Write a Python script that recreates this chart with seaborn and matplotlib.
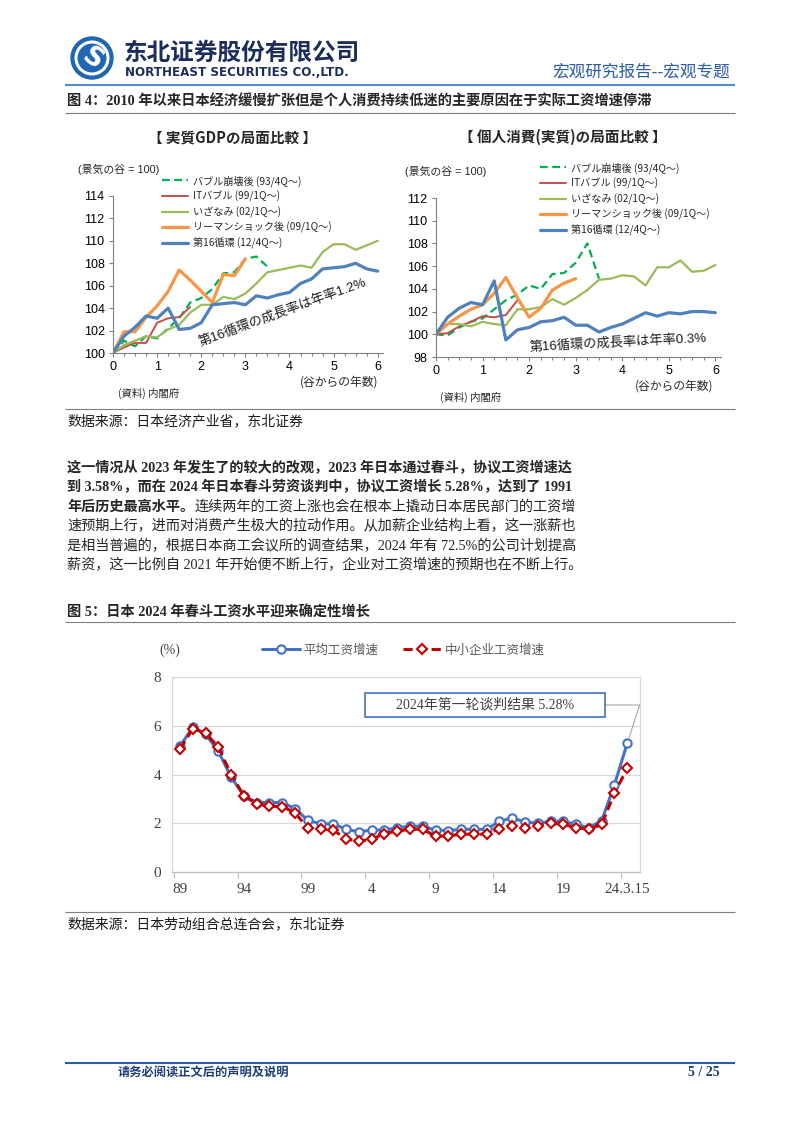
import matplotlib
matplotlib.use("Agg")
import matplotlib.pyplot as plt
from matplotlib.patches import Rectangle, Circle
from matplotlib.ticker import MultipleLocator, FixedLocator
import seaborn as sns

sns.set_theme(style="ticks")
plt.rcParams['font.family'] = ['Noto Sans CJK SC', 'DejaVu Sans']
plt.rcParams['axes.unicode_minus'] = False

W, H = 802, 1133

# ---------- 图4 数据（景気の谷 = 100） ----------
quarters = [0, 0.25, 0.5, 0.75, 1, 1.25, 1.5, 1.75, 2, 2.25, 2.5, 2.75, 3,
            3.25, 3.5, 3.75, 4, 4.25, 4.5, 4.75, 5, 5.25, 5.5, 5.75, 6]
cycle_names = ['バブル崩壊後 (93/4Q〜)', 'ITバブル (99/1Q〜)', 'いざなみ (02/1Q〜)',
               'リーマンショック後 (09/1Q〜)', '第16循環 (12/4Q〜)']

gdp_bubble = [100, 101.1, 100.6, 101.5, 101.3, 102.2, 103.1, 104.5, 104.9, 105.7,
              107.1, 107.2, 108.4, 108.6, 107.7]
gdp_it = [100, 100.5, 100.9, 100.9, 102.7, 103.1, 103.2, 104.1]
gdp_izanami = [100, 100.7, 101.1, 101.5, 101.4, 102.1, 102.5, 103.6, 104.3, 104.3,
               105.0, 104.8, 105.3, 106.2, 107.2, 107.4, 107.6, 107.8, 107.6, 109.0,
               109.7, 109.7, 109.2, 109.6, 110.0]
gdp_lehman = [100, 101.9, 101.9, 103.2, 104.2, 105.5, 107.4, 106.5, 105.5, 104.5,
              107.0, 106.9, 108.4]
gdp_16th = [100, 101.5, 102.3, 103.3, 103.1, 104.0, 102.1, 102.2, 102.7, 104.3,
            104.4, 104.5, 104.3, 105.1, 104.9, 105.2, 105.4, 106.2, 106.6, 107.5,
            107.6, 107.7, 108.0, 107.5, 107.3]

con_bubble = [100, 99.9, 100.6, 101.1, 101.4, 102.2, 103.0, 103.5, 104.3, 104.0,
              105.3, 105.4, 106.3, 108.0, 104.9]
con_it = [100, 100.1, 100.7, 101.1, 101.6, 101.5, 101.7, 103.0]
con_izanami = [100, 100.9, 100.9, 100.7, 101.1, 100.9, 100.8, 102.2, 102.2, 102.4,
               103.1, 102.6, 103.2, 103.9, 104.8, 104.9, 105.2, 105.1, 104.3, 105.9,
               105.9, 106.5, 105.5, 105.6, 106.1]
con_lehman = [100, 100.9, 101.6, 102.2, 102.6, 103.6, 105.0, 103.2, 101.5, 102.3,
              103.9, 104.5, 104.9]
con_16th = [100, 101.5, 102.3, 102.8, 102.6, 104.7, 99.5, 100.4, 100.6, 101.1,
            101.2, 101.5, 100.8, 100.8, 100.2, 100.6, 100.9, 101.4, 101.9, 101.6,
            101.9, 101.8, 102.0, 102.0, 101.9]

# ---------- 图5 数据（春斗工资增速 %） ----------
years = list(range(1989, 2025))
wage_avg = [5.17, 5.94, 5.65, 4.95, 3.89, 3.13, 2.85, 2.85, 2.85, 2.60, 2.12, 1.98,
            1.97, 1.75, 1.65, 1.72, 1.72, 1.82, 1.88, 1.88, 1.72, 1.70, 1.75, 1.75,
            1.75, 2.08, 2.22, 2.05, 2.00, 2.08, 2.08, 1.95, 1.82, 2.10, 3.58, 5.28]
wage_sme = [5.05, 5.88, 5.70, 5.12, 4.00, 3.12, 2.80, 2.70, 2.68, 2.43, 1.80, 1.75,
            1.72, 1.35, 1.26, 1.35, 1.57, 1.68, 1.75, 1.75, 1.47, 1.48, 1.55, 1.55,
            1.55, 1.77, 1.90, 1.82, 1.88, 2.00, 1.95, 1.82, 1.75, 1.95, 3.23, 4.25]
wage_ticks = [1989, 1994, 1999, 2004, 2009, 2014, 2019, 2024]
wage_ticklabels = ['89', '94', '99', '4', '9', '14', '19', '24.3.15']

SERIF_CN = ['Liberation Serif', 'Noto Sans CJK SC']
SANS_CN = ['Noto Sans CJK SC', 'DejaVu Sans']
JP = ['Noto Sans CJK JP', 'DejaVu Sans']
JP_NUM = ['Liberation Sans', 'Noto Sans CJK JP']

fig = plt.figure(figsize=(W / 100, H / 100), dpi=100)
bg = fig.add_axes([0, 0, 1, 1])
bg.set_xlim(0, W)
bg.set_ylim(H, 0)
bg.axis('off')


def px_axes(l, t, r, b):
    return fig.add_axes([l / W, 1 - b / H, (r - l) / W, (b - t) / H])


def hline(y, x0=65, x1=735, color='#7f7f7f', lw=0.8):
    bg.plot([x0, x1], [y, y], color=color, lw=lw, solid_capstyle='butt')


# ---------- 页眉 ----------
bg.add_patch(Circle((92, 58), 21, color='#1f66b3'))
bg.add_patch(Circle((92, 58), 16, fill=False, ec='white', lw=2.2))
bg.text(92, 59, 'S', color='white', fontsize=19, weight='bold', family=['DejaVu Sans'],
        ha='center', va='center', rotation=-35)
bg.text(124, 53, '东北证券股份有限公司', fontsize=17, weight='heavy', color='#1b2d5b',
        family=SANS_CN, va='center')
bg.text(125, 73, 'NORTHEAST SECURITIES CO.,LTD.', fontsize=8.6, weight='bold',
        color='#1b2d5b', family=['DejaVu Sans'], va='center')
bg.text(730, 72, '宏观研究报告--宏观专题', fontsize=12, color='#2a5caa',
        family=SANS_CN, ha='right', va='center')
hline(85, color='#4f8fd0', lw=1.5)

# ---------- 图4 ----------
bg.text(67, 102, '图 4：2010 年以来日本经济缓慢扩张但是个人消费持续低迷的主要原因在于实际工资增速停滞',
        fontsize=10.3, weight='bold', family=SERIF_CN, va='center')
hline(113)

styles = [dict(color='#00b050', lw=1.6, dashes=(3.5, 2)),
          dict(color='#c0504d', lw=1.4),
          dict(color='#9bbb59', lw=1.6),
          dict(color='#f79646', lw=2.3),
          dict(color='#4f81bd', lw=2.3)]


def cycle_chart(box, ylim, series, title, title_x, unit_x, legend_x, legend_y,
                xlab_x, src_x, note, note_xy, note_rot):
    ax = px_axes(*box)
    ax.set_facecolor('none')
    handles = []
    for vals, st in zip(series, styles):
        kw = dict(st)
        dashes = kw.pop('dashes', None)
        sns.lineplot(x=quarters[:len(vals)], y=vals, ax=ax, legend=False, **kw)
        line = ax.lines[-1]
        if dashes:
            line.set_dashes(dashes)
        handles.append(line)
    ax.set_xlim(0, 6.12)
    ax.set_ylim(*ylim)
    ax.yaxis.set_major_locator(MultipleLocator(2))
    ax.xaxis.set_major_locator(MultipleLocator(1))
    ax.xaxis.set_minor_locator(MultipleLocator(0.25))
    for s in ['top', 'right']:
        ax.spines[s].set_visible(False)
    for s in ['left', 'bottom']:
        ax.spines[s].set_color('#808080')
        ax.spines[s].set_linewidth(0.8)
    ax.tick_params(which='both', color='#808080', width=0.8, length=3, pad=3,
                   labelsize=9, labelcolor='black')
    ax.tick_params(which='minor', length=2.5)
    for lab in ax.get_xticklabels() + ax.get_yticklabels():
        lab.set_family(JP_NUM)
    ax.set_xlabel('')
    ax.set_ylabel('')

    top, bottom = box[1], box[3]
    bg.text(title_x, 137, title, fontsize=10.5, weight='bold', family=JP,
            ha='center', va='center')
    bg.text(unit_x, top - 27, '(景気の谷 = 100)', fontsize=7.8, family=JP_NUM,
            va='center', color='#262626')
    leg = ax.legend(handles, cycle_names, loc='upper left', frameon=False,
                    bbox_to_anchor=(legend_x / W, 1 - legend_y / H),
                    bbox_transform=fig.transFigure, prop=dict(family=JP, size=7.3),
                    handlelength=2.6, handletextpad=0.5, labelspacing=0.42,
                    borderpad=0, borderaxespad=0)
    for t in leg.get_texts():
        t.set_color('#262626')
    bg.text(xlab_x, bottom + 29, '(谷からの年数)', fontsize=8.5, family=JP,
            ha='right', va='center', color='#262626')
    bg.text(src_x, bottom + 40, '(資料) 内閣府', fontsize=7.5, family=JP,
            va='center', color='#262626')
    ax.text(note_xy[0], note_xy[1], note, fontsize=9.5, family=JP_NUM, ha='center',
            va='center', rotation=note_rot, rotation_mode='anchor', color='#1a1a1a')
    return ax


cycle_chart((113, 196, 383, 353), (100, 114),
            [gdp_bubble, gdp_it, gdp_izanami, gdp_lehman, gdp_16th],
            '【 実質GDPの局面比較 】', 232, 78, 162, 175, 378, 118,
            '第16循環の成長率は年率1.2%', (3.85, 103.65), 20)
cycle_chart((436, 198, 721, 357), (98, 112),
            [con_bubble, con_it, con_izanami, con_lehman, con_16th],
            '【 個人消費(実質)の局面比較 】', 563, 405, 540, 162, 713, 440,
            '第16循環の成長率は年率0.3%', (3.9, 99.25), 3)

hline(409)
bg.text(67, 421, '数据来源：日本经济产业省，东北证券', fontsize=10, family=SERIF_CN,
        va='center', color='#1a1a1a')

# ---------- 正文 ----------
body_fs = 10.2
body_y = [468, 487.5, 507, 526.5, 546, 565.5]
bold_lines = ['这一情况从 2023 年发生了的较大的改观，2023 年日本通过春斗，协议工资增速达',
              '到 3.58%，而在 2024 年日本春斗劳资谈判中，协议工资增长 5.28%，达到了 1991']
for y, s in zip(body_y[:2], bold_lines):
    bg.text(67, y, s, fontsize=body_fs, weight='bold', family=SERIF_CN, va='center')
t3 = bg.text(67, body_y[2], '年后历史最高水平。', fontsize=body_fs, weight='bold',
             family=SERIF_CN, va='center')
renderer = fig.canvas.get_renderer()
x_next = t3.get_window_extent(renderer).x1
bg.text(x_next, body_y[2], '连续两年的工资上涨也会在根本上撬动日本居民部门的工资增',
        fontsize=body_fs, family=SERIF_CN, va='center')
normal_lines = ['速预期上行，进而对消费产生极大的拉动作用。从加薪企业结构上看，这一涨薪也',
                '是相当普遍的，根据日本商工会议所的调查结果，2024 年有 72.5%的公司计划提高',
                '薪资，这一比例自 2021 年开始便不断上行，企业对工资增速的预期也在不断上行。']
for y, s in zip(body_y[3:], normal_lines):
    bg.text(67, y, s, fontsize=body_fs, family=SERIF_CN, va='center')

# ---------- 图5 ----------
bg.text(67, 612, '图 5：日本 2024 年春斗工资水平迎来确定性增长', fontsize=10.3,
        weight='bold', family=SERIF_CN, va='center')
hline(622)

ax5 = px_axes(172, 677, 640, 872)
ax5.set_facecolor('none')
sns.lineplot(x=years, y=wage_avg, ax=ax5, color='#4472c4', lw=2.2, marker='o',
             markersize=6, markerfacecolor='white', markeredgecolor='#4472c4',
             markeredgewidth=1.5, legend=False)
h_avg = ax5.lines[-1]
sns.lineplot(x=years, y=wage_sme, ax=ax5, color='#c00000', lw=2.2, marker='D',
             markersize=5.5, markerfacecolor='white', markeredgecolor='#c00000',
             markeredgewidth=1.5, legend=False)
h_sme = ax5.lines[-1]
h_sme.set_dashes((3, 1.6))
ax5.set_xlim(1988.37, 2025.0)
ax5.set_ylim(0, 8)
ax5.set_yticks([0, 2, 4, 6, 8])
ax5.yaxis.grid(True, color='#d9d9d9', lw=0.9)
ax5.set_axisbelow(True)
ax5.set_xticks(wage_ticks)
ax5.set_xticklabels(wage_ticklabels)
ax5.xaxis.set_minor_locator(FixedLocator([t - 0.5 for t in wage_ticks]))
ax5.tick_params(axis='x', which='major', length=0, pad=8)
ax5.tick_params(axis='x', which='minor', length=4, color='#bfbfbf', width=0.9)
ax5.tick_params(axis='y', length=0, pad=8)
ax5.tick_params(labelsize=11, labelcolor='#404040')
for lab in ax5.get_xticklabels() + ax5.get_yticklabels():
    lab.set_family(['Liberation Serif'])
for s in ax5.spines.values():
    s.set_color('#d9d9d9')
    s.set_linewidth(0.9)
ax5.spines['bottom'].set_color('#bfbfbf')
ax5.set_xlabel('')
ax5.set_ylabel('')

leg5 = ax5.legend([h_avg, h_sme], ['平均工资增速', '中小企业工资增速'], loc='center left',
                  ncol=2, frameon=False, bbox_to_anchor=(262 / W, 1 - 650 / H),
                  bbox_transform=fig.transFigure, prop=dict(family=SANS_CN, size=9),
                  handlelength=3.0, handletextpad=0.3, columnspacing=2.0,
                  borderpad=0, borderaxespad=0)
for t in leg5.get_texts():
    t.set_color('#595959')
bg.text(170, 650, '(%)', fontsize=10, family=SERIF_CN, ha='center', va='center',
        color='#404040')

ax5.add_patch(Rectangle((365, 693), 240, 24, transform=bg.transData, fc='white',
                        ec='#4472c4', lw=1.2, clip_on=False, zorder=5))
ax5.text(485, 705, '2024年第一轮谈判结果 5.28%', transform=bg.transData, fontsize=10,
         family=SERIF_CN, ha='center', va='center', color='#404040', zorder=6)
ax5.annotate('', xy=(years[-1], wage_avg[-1]), xycoords='data', xytext=(605, 705),
             textcoords=bg.transData,
             arrowprops=dict(arrowstyle='-', color='#a6a6a6', lw=0.8, shrinkA=0,
                             shrinkB=4, connectionstyle='angle,angleA=0,angleB=72,rad=0'))

hline(912)
bg.text(67, 924, '数据来源：日本劳动组合总连合会，东北证券', fontsize=10, family=SERIF_CN,
        va='center', color='#1a1a1a')

# ---------- 页脚 ----------
hline(1063, color='#2a5caa', lw=1.5)
bg.text(118, 1073, '请务必阅读正文后的声明及说明', fontsize=8.8, weight='bold',
        family=SANS_CN, va='center', color='#1b3d7a')
bg.text(720, 1073, '5 / 25', fontsize=10, weight='bold', family=SERIF_CN,
        ha='right', va='center', color='#1b3d7a')

fig.savefig('out.png', dpi=100)
